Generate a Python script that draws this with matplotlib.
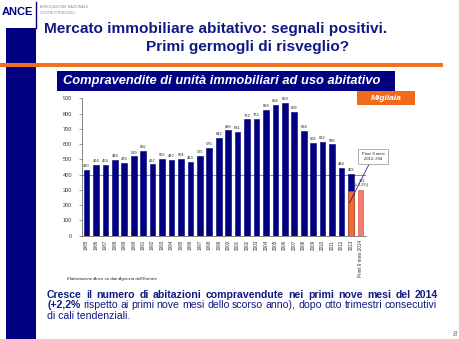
import numpy as np
import matplotlib
matplotlib.use("Agg")
import matplotlib.pyplot as plt
from matplotlib.patches import Rectangle

plt.rcParams['font.family'] = ['Liberation Sans', 'DejaVu Sans']

##### data #####
years = [str(y) for y in range(1985, 2014)] + ['Primi 9 mesi 2014']
sales = [430, 464, 464, 494, 476, 519, 556, 467, 503, 497, 504, 483, 525, 576, 642,
         690, 681, 762, 763, 826, 858, 869, 809, 684, 609, 612, 598, 444, 403, 301]
first9_2013 = 294
change_2014 = '(+2,2%)'
yticks = list(range(0, 1000, 100))
################

NAVY = '#000080'
TXT = '#101a85'
ORANGE = '#f26a1b'

W, H = 460, 339
fig = plt.figure(figsize=(W / 100, H / 100), dpi=100)
fig.patch.set_facecolor('white')
renderer = fig.canvas.get_renderer()


def px(x, y):
    # pixel coords (top-left origin) -> figure fraction
    return x / W, 1 - y / H


def justified(words, x0, x1, y, **kw):
    # place words one by one so the line fills x0..x1 (like the slide text box)
    pieces = []
    for w in words:
        t = fig.text(0, 0, w['s'], **{**kw, **w.get('kw', {})})
        pieces.append((t, t.get_window_extent(renderer=renderer).width))
    total = sum(p[1] for p in pieces)
    gap = (x1 - x0 - total) / max(len(pieces) - 1, 1)
    xc = x0
    for t, wpx in pieces:
        t.set_position(px(xc, y))
        xc += wpx + gap


# slide decoration
fig.patches.append(Rectangle(px(6.5, 339), 29.5 / W, (339 - 28) / H, transform=fig.transFigure,
                             facecolor=NAVY, edgecolor='none', zorder=0))
fig.patches.append(Rectangle(px(0, 67), 443 / W, 4 / H, transform=fig.transFigure,
                             facecolor='#f07020', edgecolor='none', zorder=1))
fig.add_artist(plt.Line2D([36.5 / W, 36.5 / W], [1 - 2 / H, 1 - 28 / H], transform=fig.transFigure,
                          color=NAVY, lw=1.0))
fig.text(*px(2, 12), 'ANCE', fontsize=8, fontweight='bold', color=NAVY, va='center', ha='left')
fig.text(*px(40, 7), 'ASSOCIAZIONE NAZIONALE', fontsize=2.6, color='#8a8a9a', va='center')
fig.text(*px(40, 12.5), 'COSTRUTTORI EDILI', fontsize=2.6, color='#8a8a9a', va='center')

fig.text(*px(44, 29.5), 'Mercato immobiliare abitativo: segnali positivi.', fontsize=11.1,
         fontweight='bold', color=TXT, va='center', ha='left')
fig.text(*px(146, 47.5), 'Primi germogli di risveglio?', fontsize=11.1,
         fontweight='bold', color=TXT, va='center', ha='left')

# subtitle box
fig.patches.append(Rectangle(px(57, 91), (395 - 57) / W, 20 / H, transform=fig.transFigure,
                             facecolor=NAVY, edgecolor='none', zorder=1))
fig.text(*px(63, 81), 'Compravendite di unità immobiliari ad uso abitativo', fontsize=9.3,
         fontweight='bold', fontstyle='italic', color='white', va='center', ha='left', zorder=2)

# "Migliaia" box
fig.patches.append(Rectangle(px(357, 105), (415 - 357) / W, 14 / H, transform=fig.transFigure,
                             facecolor=ORANGE, edgecolor='none', zorder=1))
fig.text(*px(386, 98), 'Migliaia', fontsize=6, fontweight='bold', fontstyle='italic',
         color='white', va='center', ha='center', zorder=2)

# chart
ax = fig.add_axes([81.7 / W, (H - 235.7) / H, (366 - 81.7) / W, (235.7 - 98.3) / H])
x = np.arange(len(years))
colors = [NAVY] * (len(years) - 1) + ['#f27c70']
edges = [NAVY] * (len(years) - 1) + ['#d8452c']
ax.bar(x, sales, width=0.6, color=colors, edgecolor=edges, linewidth=0.4, zorder=2)
# first nine months of 2013 inside the 2013 bar
ax.bar(x[-2], first9_2013, width=0.6, color='#ea6f2a', edgecolor='#c8501a', linewidth=0.4, zorder=3)
ax.axhline(400, color='#6d7a9a', lw=0.6, zorder=1)

for xi, v in zip(x[:-1], sales[:-1]):
    ax.text(xi, v + 12, str(v), ha='center', va='bottom', fontsize=2.9, color='#222222')
ax.text(x[-1] + 0.2, sales[-1] + 44, str(sales[-1]), ha='center', va='bottom', fontsize=2.9, color='#222222')
ax.text(x[-1] + 0.2, sales[-1] + 18, change_2014, ha='center', va='bottom', fontsize=2.9, color='#222222')

ax.annotate('Primi 9 mesi\n2013: %d' % first9_2013, xy=(x[-2] - 0.15, 215), xytext=(x[-1] + 1.35, 520),
            fontsize=3.0, ha='center', va='center', color='#222222', linespacing=1.2,
            bbox=dict(boxstyle='square,pad=0.8', fc='white', ec='#909090', lw=0.5),
            arrowprops=dict(arrowstyle='-', color=NAVY, lw=0.5, shrinkA=0, shrinkB=0), zorder=5)

ax.set_xlim(-0.51, len(years) - 0.4)
ax.set_ylim(0, 900)
ax.set_yticks(yticks)
ax.set_yticklabels([str(t) for t in yticks], fontsize=4, color='#333333')
ax.set_xticks(x)
ax.set_xticklabels(years, rotation=90, fontsize=3.3, color='#333333')
ax.tick_params(axis='y', length=2, width=0.4, pad=5, color='#555555')
ax.tick_params(axis='x', length=0, pad=3)
for s in ['top', 'right']:
    ax.spines[s].set_visible(False)
for s in ['left', 'bottom']:
    ax.spines[s].set_linewidth(0.5)
    ax.spines[s].set_color('#555555')
ax.set_facecolor('none')

fig.text(*px(67, 279), "Elaborazione Ance su dati Agenzia dell'Entrate", fontsize=3.2,
         fontstyle='italic', color='#222222', va='center')

# bottom comment (justified like the slide)
common = dict(fontsize=7.6, color=TXT, va='center', ha='left')
line1 = 'Cresce il numero di abitazioni compravendute nei primi nove mesi del 2014'.split()
justified([{'s': w, 'kw': {'fontweight': 'bold'}} for w in line1], 47, 438, 295, **common)
line2 = 'rispetto ai primi nove mesi dello scorso anno), dopo otto trimestri consecutivi'.split()
justified([{'s': '(+2,2%', 'kw': {'fontweight': 'bold'}}] + [{'s': w} for w in line2], 47, 437, 305.5, **common)
fig.text(*px(47, 316), 'di cali tendenziali.', **common)
fig.text(*px(453, 334), '8', fontsize=5.5, fontstyle='italic', color='#6a6a8a', va='center')

fig.savefig('out.png', dpi=100, facecolor='white')
plt.close(fig)
